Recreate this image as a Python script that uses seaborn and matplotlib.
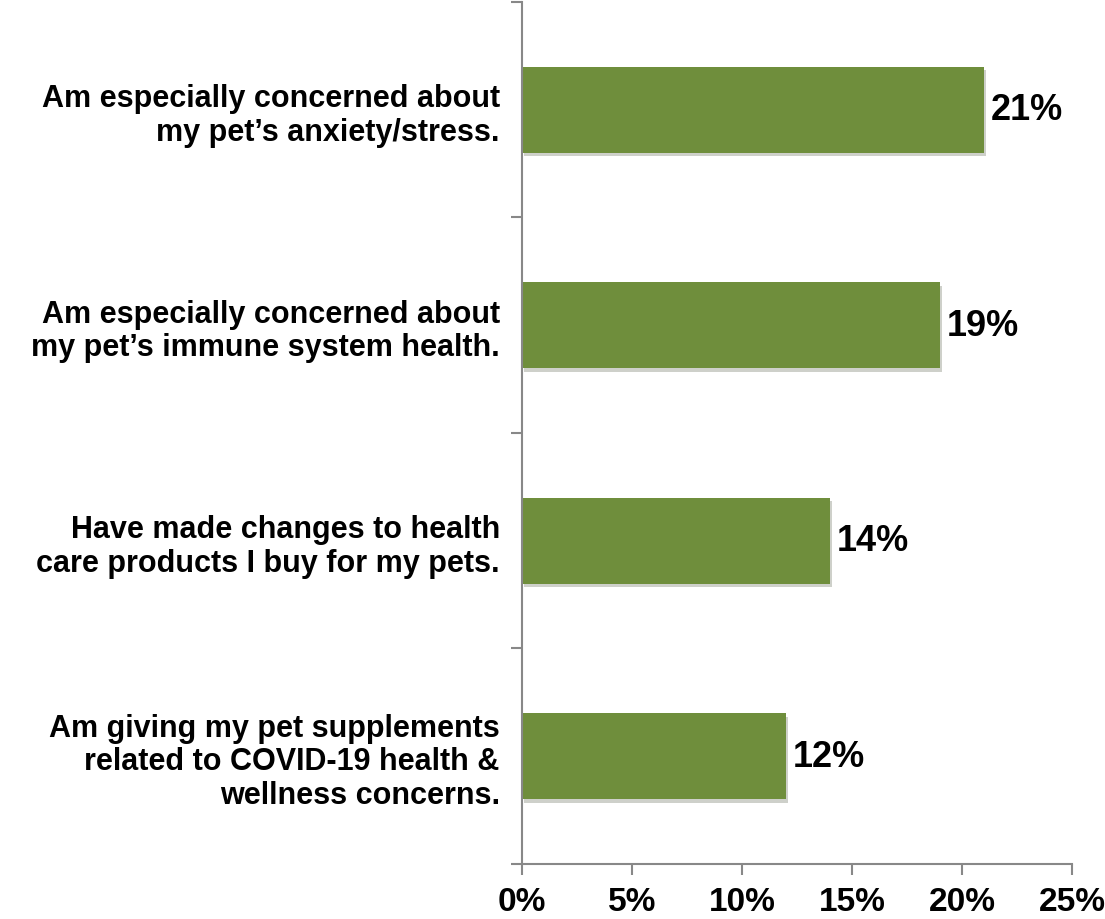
import matplotlib
matplotlib.use("Agg")
import matplotlib.pyplot as plt
import matplotlib.patheffects as pe
import seaborn as sns
import pandas as pd

categories = [
    "Am especially concerned about\nmy pet\u2019s anxiety/stress.",
    "Am especially concerned about\nmy pet\u2019s immune system health.",
    "Have made changes to health\ncare products I buy for my pets.",
    "Am giving my pet supplements\nrelated to COVID-19 health &\nwellness concerns.",
]
values = [21, 19, 14, 12]
xticks = [0, 5, 10, 15, 20, 25]

df = pd.DataFrame({"cat": categories, "val": values})

sns.set_theme(style="white")
plt.rcParams["font.family"] = ["Liberation Sans", "DejaVu Sans"]

fig = plt.figure(figsize=(11.05, 9.2), dpi=100)
ax = fig.add_axes([0.4724, 0.0598, 0.4977, 0.937])

sns.barplot(data=df, x="val", y="cat", orient="h", color="#6F8E3C",
            saturation=1, width=0.4, ax=ax)
for p in ax.patches:
    p.set_path_effects([pe.SimplePatchShadow(offset=(1.5, -2.5), alpha=0.22), pe.Normal()])
    p.set_edgecolor("none")

ax.set_xlim(0, 25)
ax.set_ylim(len(categories) - 0.5, -0.5)
ax.set_xticks(xticks)
ax.set_xticklabels([f"{t}%" for t in xticks], fontsize=24, fontweight="bold", color="black")
ax.set_yticks(range(len(categories)))
ax.set_yticklabels(categories, fontsize=22, fontweight="bold", ha="right",
                   linespacing=1.15, color="black")
ax.set_yticks([i - 0.5 for i in range(len(categories) + 1)], minor=True)
ax.tick_params(axis="y", which="major", left=False, length=0, pad=16)
ax.tick_params(axis="y", which="minor", left=True, length=8, width=1.5,
               color="#888888", direction="out")
ax.tick_params(axis="x", which="major", bottom=True, length=8, width=1.5,
               color="#888888", direction="out", pad=8)
ax.set_xlabel("")
ax.set_ylabel("")
for s in ["top", "right"]:
    ax.spines[s].set_visible(False)
for s in ["left", "bottom"]:
    ax.spines[s].set_color("#888888")
    ax.spines[s].set_linewidth(1.5)

for i, v in enumerate(values):
    ax.text(v + 0.3, i, f"{v}%", va="center", ha="left", fontsize=26,
            fontweight="bold", color="black")

fig.savefig("out.png", dpi=100)
